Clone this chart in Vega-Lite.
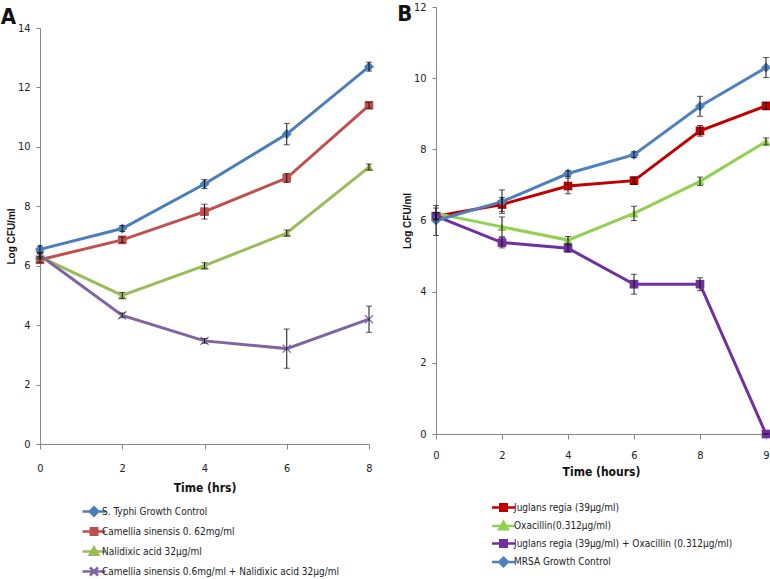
{
  "$schema": "https://vega.github.io/schema/vega-lite/v6.json",
  "padding": {"left": 0, "top": 1, "right": 0, "bottom": 0},
  "background": "white",
  "config": {
    "view": {"stroke": null},
    "font": "DejaVu Sans Condensed, Liberation Sans, sans-serif",
    "axis": {
      "grid": false,
      "domainColor": "#868686",
      "tickColor": "#868686",
      "labelColor": "#222222",
      "labelFont": "DejaVu Sans Condensed, Liberation Sans, sans-serif",
      "labelFontSize": 11,
      "titleColor": "#111111"
    },
    "legend": {"labelFont": "DejaVu Sans Condensed, Liberation Sans, sans-serif", "labelColor": "#222222", "labelLimit": 0}
  },
  "resolve": {"scale": {"color": "independent", "shape": "independent", "x": "independent", "y": "independent"}, "legend": {"color": "independent", "shape": "independent"}},
  "datasets": {
    "A": [
      {"t": 0, "s": "S. Typhi Growth Control", "v": 6.55, "e": 0.12},
      {"t": 2, "s": "S. Typhi Growth Control", "v": 7.25, "e": 0.1},
      {"t": 4, "s": "S. Typhi Growth Control", "v": 8.75, "e": 0.15},
      {"t": 6, "s": "S. Typhi Growth Control", "v": 10.43, "e": 0.36},
      {"t": 8, "s": "S. Typhi Growth Control", "v": 12.7, "e": 0.15},
      {"t": 0, "s": "Camellia sinensis 0. 62mg/ml", "v": 6.2, "e": 0.1},
      {"t": 2, "s": "Camellia sinensis 0. 62mg/ml", "v": 6.87, "e": 0.1},
      {"t": 4, "s": "Camellia sinensis 0. 62mg/ml", "v": 7.82, "e": 0.25},
      {"t": 6, "s": "Camellia sinensis 0. 62mg/ml", "v": 8.95, "e": 0.15},
      {"t": 8, "s": "Camellia sinensis 0. 62mg/ml", "v": 11.4, "e": 0.1},
      {"t": 0, "s": "Nalidixic acid 32μg/ml", "v": 6.3, "e": 0.1},
      {"t": 2, "s": "Nalidixic acid 32μg/ml", "v": 5.0, "e": 0.1},
      {"t": 4, "s": "Nalidixic acid 32μg/ml", "v": 6.0, "e": 0.1},
      {"t": 6, "s": "Nalidixic acid 32μg/ml", "v": 7.1, "e": 0.1},
      {"t": 8, "s": "Nalidixic acid 32μg/ml", "v": 9.32, "e": 0.1},
      {"t": 0, "s": "Camellia sinensis 0.6mg/ml + Nalidixic acid 32μg/ml", "v": 6.35, "e": 0.1},
      {"t": 2, "s": "Camellia sinensis 0.6mg/ml + Nalidixic acid 32μg/ml", "v": 4.33, "e": 0.08},
      {"t": 4, "s": "Camellia sinensis 0.6mg/ml + Nalidixic acid 32μg/ml", "v": 3.47, "e": 0.08},
      {"t": 6, "s": "Camellia sinensis 0.6mg/ml + Nalidixic acid 32μg/ml", "v": 3.21, "e": 0.66},
      {"t": 8, "s": "Camellia sinensis 0.6mg/ml + Nalidixic acid 32μg/ml", "v": 4.2, "e": 0.44}
    ],
    "B": [
      {"t": 0, "s": "Juglans regia (39μg/ml)", "v": 6.12, "e": 0.1},
      {"t": 2, "s": "Juglans regia (39μg/ml)", "v": 6.45, "e": 0.2},
      {"t": 4, "s": "Juglans regia (39μg/ml)", "v": 6.97, "e": 0.22},
      {"t": 6, "s": "Juglans regia (39μg/ml)", "v": 7.12, "e": 0.1},
      {"t": 8, "s": "Juglans regia (39μg/ml)", "v": 8.52, "e": 0.15},
      {"t": 9, "s": "Juglans regia (39μg/ml)", "v": 9.22, "e": 0.1},
      {"t": 0, "s": "Oxacillin(0.312μg/ml)", "v": 6.2, "e": 0.15},
      {"t": 2, "s": "Oxacillin(0.312μg/ml)", "v": 5.82, "e": 0.28},
      {"t": 4, "s": "Oxacillin(0.312μg/ml)", "v": 5.45, "e": 0.1},
      {"t": 6, "s": "Oxacillin(0.312μg/ml)", "v": 6.2, "e": 0.2},
      {"t": 8, "s": "Oxacillin(0.312μg/ml)", "v": 7.1, "e": 0.12},
      {"t": 9, "s": "Oxacillin(0.312μg/ml)", "v": 8.22, "e": 0.1},
      {"t": 0, "s": "Juglans regia (39μg/ml) + Oxacillin (0.312μg/ml)", "v": 6.12, "e": 0.1},
      {"t": 2, "s": "Juglans regia (39μg/ml) + Oxacillin (0.312μg/ml)", "v": 5.38, "e": 0.15},
      {"t": 4, "s": "Juglans regia (39μg/ml) + Oxacillin (0.312μg/ml)", "v": 5.22, "e": 0.1},
      {"t": 6, "s": "Juglans regia (39μg/ml) + Oxacillin (0.312μg/ml)", "v": 4.21, "e": 0.28},
      {"t": 8, "s": "Juglans regia (39μg/ml) + Oxacillin (0.312μg/ml)", "v": 4.21, "e": 0.18},
      {"t": 9, "s": "Juglans regia (39μg/ml) + Oxacillin (0.312μg/ml)", "v": 0, "e": 0},
      {"t": 0, "s": "MRSA Growth  Control", "v": 6.0, "e": 0.42},
      {"t": 2, "s": "MRSA Growth  Control", "v": 6.53, "e": 0.33},
      {"t": 4, "s": "MRSA Growth  Control", "v": 7.32, "e": 0.08},
      {"t": 6, "s": "MRSA Growth  Control", "v": 7.85, "e": 0.08},
      {"t": 8, "s": "MRSA Growth  Control", "v": 9.21, "e": 0.28},
      {"t": 9, "s": "MRSA Growth  Control", "v": 10.3, "e": 0.28}
    ]
  },
  "columns": 2,
  "spacing": 22,
  "concat": [
    {
      "width": 329,
      "height": 437,
      "title": {"text": "A", "orient": "left", "anchor": "end", "angle": 0, "fontSize": 22, "fontWeight": "bold", "font": "DejaVu Sans Condensed, Liberation Sans, sans-serif", "offset": -25, "dy": 0, "color": "#111111"},
      "data": {"name": "A"},
      "encoding": {
        "x": {"field": "t", "type": "ordinal", "scale": {"type": "point", "padding": 0},
          "axis": {"title": "Time (hrs)", "labelAngle": 0, "labelPadding": 13, "tickSize": 5, "titlePadding": 9, "titleFont": "DejaVu Sans Condensed, Liberation Sans, sans-serif", "titleFontSize": 12, "titleFontWeight": "bold"}},
        "y": {"field": "v", "type": "quantitative", "scale": {"domain": [0, 14], "nice": false, "range": [437, 21]},
          "axis": {"title": "Log CFU/ml", "values": [0, 2, 4, 6, 8, 10, 12, 14], "tickSize": 4, "labelPadding": 6, "titlePadding": 1, "titleFont": "Liberation Sans", "titleFontSize": 10, "titleFontWeight": "bold"}}
      },
      "layer": [
        {"mark": {"type": "line", "strokeWidth": 3},
          "encoding": {"color": {"field": "s", "type": "nominal",
            "scale": {"domain": ["S. Typhi Growth Control", "Camellia sinensis 0. 62mg/ml", "Nalidixic acid 32μg/ml", "Camellia sinensis 0.6mg/ml + Nalidixic acid 32μg/ml"], "range": ["#4A7EBB", "#C0504D", "#9BBB59", "#8064A2"]}}}},
        {"transform": [{"filter": {"field": "s", "equal": "S. Typhi Growth Control"}}],
          "mark": {"type": "point", "filled": true, "size": 100, "opacity": 1, "shape": "diamond", "color": "#4A7EBB"}},
        {"transform": [{"filter": {"field": "s", "equal": "Camellia sinensis 0. 62mg/ml"}}],
          "mark": {"type": "point", "filled": true, "size": 75, "opacity": 1, "shape": "square", "color": "#C0504D"}},
        {"transform": [{"filter": {"field": "s", "equal": "Nalidixic acid 32μg/ml"}}],
          "mark": {"type": "point", "filled": true, "size": 85, "opacity": 1, "shape": "triangle-up", "color": "#9BBB59"}},
        {"transform": [{"filter": {"field": "s", "equal": "Camellia sinensis 0.6mg/ml + Nalidixic acid 32μg/ml"}}],
          "mark": {"type": "point", "filled": true, "size": 80, "opacity": 1, "shape": "M-1,-0.8L-0.8,-1L0,-0.2L0.8,-1L1,-0.8L0.2,0L1,0.8L0.8,1L0,0.2L-0.8,1L-1,0.8L-0.2,0Z", "color": "#8064A2"}},
        {"transform": [{"filter": {"field": "v", "lt": -1}}],
          "mark": {"type": "point", "filled": true, "opacity": 1, "strokeWidth": 2.5},
          "encoding": {
            "color": {"field": "s", "type": "nominal",
              "legend": {"title": null, "orient": "none", "legendX": 47.5, "legendY": 498, "direction": "vertical", "symbolSize": 100, "symbolStrokeWidth": 2.5, "symbolOpacity": 1, "labelOffset": 1.5, "rowPadding": 2, "labelFontSize": 10, "labelLimit": 0, "padding": 0}},
            "shape": {"field": "s", "type": "nominal",
              "scale": {"domain": ["S. Typhi Growth Control", "Camellia sinensis 0. 62mg/ml", "Nalidixic acid 32μg/ml", "Camellia sinensis 0.6mg/ml + Nalidixic acid 32μg/ml"],
                "range": ["M-2.3,0H2.3M0,-0.85L0.85,0L0,0.85L-0.85,0Z", "M-2.3,0H2.3M-0.65,-0.65H0.65V0.65H-0.65Z", "M-2.3,0H2.3M0,-0.85L0.85,0.65H-0.85Z", "M-2.3,0H2.3M-0.8,-0.8L0.8,0.8M-0.8,0.8L0.8,-0.8"]}}
          }},
        {"mark": {"type": "errorbar", "color": "#111111", "ticks": {"size": 6, "thickness": 1}, "rule": {"strokeWidth": 1}},
          "encoding": {"yError": {"field": "e"}}}
      ]
    },
    {
      "width": 330,
      "height": 427,
      "title": {"text": "B", "orient": "left", "anchor": "end", "angle": 0, "fontSize": 22, "fontWeight": "bold", "font": "DejaVu Sans Condensed, Liberation Sans, sans-serif", "offset": -25, "dy": 3, "color": "#111111"},
      "data": {"name": "B"},
      "encoding": {
        "x": {"field": "t", "type": "ordinal", "scale": {"type": "point", "padding": 0},
          "axis": {"title": "Time (hours)", "labelAngle": 0, "labelPadding": 10, "tickSize": 5, "titlePadding": 6, "titleFont": "DejaVu Sans Condensed, Liberation Sans, sans-serif", "titleFontSize": 12, "titleFontWeight": "bold"}},
        "y": {"field": "v", "type": "quantitative", "scale": {"domain": [0, 12], "nice": false},
          "axis": {"title": "Log CFU/ml", "values": [0, 2, 4, 6, 8, 10, 12], "tickSize": 4, "labelPadding": 6, "titlePadding": 1, "titleFont": "Liberation Sans", "titleFontSize": 10, "titleFontWeight": "bold"}}
      },
      "layer": [
        {"mark": {"type": "line", "strokeWidth": 3},
          "encoding": {"color": {"field": "s", "type": "nominal",
            "scale": {"domain": ["Juglans regia (39μg/ml)", "Oxacillin(0.312μg/ml)", "Juglans regia (39μg/ml) + Oxacillin (0.312μg/ml)", "MRSA Growth  Control"], "range": ["#C00000", "#92D050", "#7030A0", "#4F81BD"]}}}},
        {"transform": [{"filter": {"field": "s", "equal": "Juglans regia (39μg/ml)"}}],
          "mark": {"type": "point", "filled": true, "size": 75, "opacity": 1, "shape": "square", "color": "#C00000"}},
        {"transform": [{"filter": {"field": "s", "equal": "Oxacillin(0.312μg/ml)"}}],
          "mark": {"type": "point", "filled": true, "size": 85, "opacity": 1, "shape": "triangle-up", "color": "#92D050"}},
        {"transform": [{"filter": {"field": "s", "equal": "Juglans regia (39μg/ml) + Oxacillin (0.312μg/ml)"}}],
          "mark": {"type": "point", "filled": true, "size": 75, "opacity": 1, "shape": "square", "color": "#7030A0"}},
        {"transform": [{"filter": {"field": "s", "equal": "MRSA Growth  Control"}}],
          "mark": {"type": "point", "filled": true, "size": 100, "opacity": 1, "shape": "diamond", "color": "#4F81BD"}},
        {"transform": [{"filter": {"field": "v", "lt": -1}}],
          "mark": {"type": "point", "filled": true, "opacity": 1, "strokeWidth": 2.5},
          "encoding": {
            "color": {"field": "s", "type": "nominal",
              "legend": {"title": null, "orient": "none", "legendX": 61, "legendY": 494, "direction": "vertical", "symbolSize": 100, "symbolStrokeWidth": 2.5, "symbolOpacity": 1, "labelOffset": 4, "rowPadding": 0.5, "labelFontSize": 10, "labelLimit": 0, "padding": 0}},
            "shape": {"field": "s", "type": "nominal",
              "scale": {"domain": ["Juglans regia (39μg/ml)", "Oxacillin(0.312μg/ml)", "Juglans regia (39μg/ml) + Oxacillin (0.312μg/ml)", "MRSA Growth  Control"],
                "range": ["M-2.3,0H2.3M-0.65,-0.65H0.65V0.65H-0.65Z", "M-2.3,0H2.3M0,-0.85L0.85,0.65H-0.85Z", "M-2.3,0H2.3M-0.65,-0.65H0.65V0.65H-0.65Z", "M-2.3,0H2.3M0,-0.85L0.85,0L0,0.85L-0.85,0Z"]}}
          }},
        {"mark": {"type": "errorbar", "color": "#111111", "ticks": {"size": 6, "thickness": 1}, "rule": {"strokeWidth": 1}},
          "encoding": {"yError": {"field": "e"}}}
      ]
    }
  ]
}
